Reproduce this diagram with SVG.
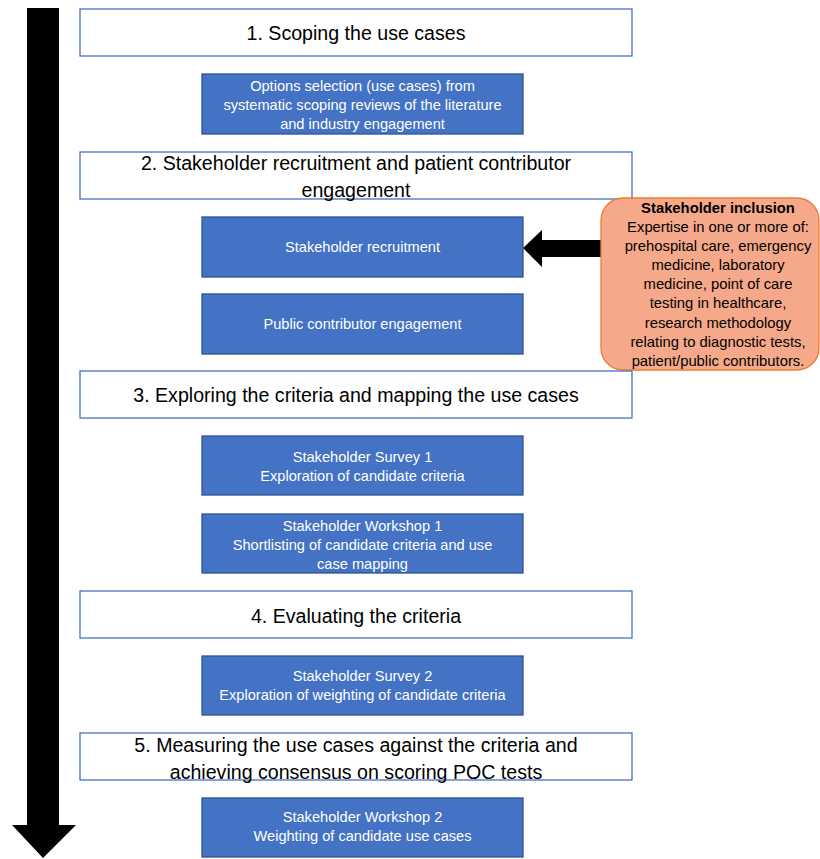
<svg xmlns="http://www.w3.org/2000/svg" width="820" height="859" viewBox="0 0 820 859">
<style>
.step{fill:#ffffff;stroke:#4472C4;stroke-width:1.3}
.task{fill:#4472C4;stroke:#2F528F;stroke-width:1.3}
.tt{font-family:"Liberation Sans",Arial,sans-serif;font-size:19.6px;fill:#000;text-anchor:middle}
.bt{font-family:"Liberation Sans",Arial,sans-serif;font-size:14.6px;fill:#ffffff;text-anchor:middle}
.ot{font-family:"Liberation Sans",Arial,sans-serif;font-size:14.8px;fill:#000;text-anchor:middle}
.arrow{fill:#000}
</style>
<rect width="820" height="859" fill="#ffffff"/>
<g id="connectors">
<polygon class="arrow" points="27,8 59,8 59,825 76,825 43,858 12,825 27,825"/>
<polygon class="arrow" points="523,248 542,230 542,240 601,240 601,257 542,257 542,267"/>
</g>
<g id="step1"><rect class="step" x="80" y="9" width="552" height="47"/><text class="tt" x="356" y="40">1. Scoping the use cases</text></g>
<g id="options"><rect class="task" x="202" y="74" width="321" height="60"/>
<text class="bt" x="362.5" y="91">Options selection (use cases) from</text>
<text class="bt" x="362.5" y="110">systematic scoping reviews of the literature</text>
<text class="bt" x="362.5" y="129">and industry engagement</text></g>
<g id="step2"><rect class="step" x="80" y="152" width="552" height="47"/>
<text class="tt" x="356" y="170">2. Stakeholder recruitment and patient contributor</text>
<text class="tt" x="356" y="197">engagement</text></g>
<g id="recruitment"><rect class="task" x="202" y="217" width="321" height="60"/><text class="bt" x="362.5" y="252">Stakeholder recruitment</text></g>
<g id="public"><rect class="task" x="202" y="294" width="321" height="60"/><text class="bt" x="362.5" y="329">Public contributor engagement</text></g>
<g id="inclusion"><rect x="601" y="198" width="218" height="172" rx="22" ry="22" fill="#F5A98A" stroke="#ED7D31" stroke-width="1.3"/>
<text class="ot" x="718" y="213" font-weight="bold">Stakeholder inclusion</text>
<text class="ot" x="718" y="232">Expertise in one or more of:</text>
<text class="ot" x="718" y="251">prehospital care, emergency</text>
<text class="ot" x="718" y="270">medicine, laboratory</text>
<text class="ot" x="718" y="289">medicine, point of care</text>
<text class="ot" x="718" y="308">testing in healthcare,</text>
<text class="ot" x="718" y="328">research methodology</text>
<text class="ot" x="718" y="347">relating to diagnostic tests,</text>
<text class="ot" x="718" y="366">patient/public contributors.</text></g>
<g id="step3"><rect class="step" x="80" y="371" width="552" height="47"/><text class="tt" x="356" y="402">3. Exploring the criteria and mapping the use cases</text></g>
<g id="survey1"><rect class="task" x="202" y="436" width="321" height="59"/>
<text class="bt" x="362.5" y="462">Stakeholder Survey 1</text>
<text class="bt" x="362.5" y="481">Exploration of candidate criteria</text></g>
<g id="workshop1"><rect class="task" x="202" y="514" width="321" height="59"/>
<text class="bt" x="362.5" y="531">Stakeholder Workshop 1</text>
<text class="bt" x="362.5" y="550">Shortlisting of candidate criteria and use</text>
<text class="bt" x="362.5" y="569">case mapping</text></g>
<g id="step4"><rect class="step" x="80" y="591" width="552" height="47"/><text class="tt" x="356" y="623">4. Evaluating the criteria</text></g>
<g id="survey2"><rect class="task" x="202" y="656" width="321" height="59"/>
<text class="bt" x="362.5" y="681">Stakeholder Survey 2</text>
<text class="bt" x="362.5" y="700">Exploration of weighting of candidate criteria</text></g>
<g id="step5"><rect class="step" x="80" y="733" width="552" height="47"/>
<text class="tt" x="356" y="752">5. Measuring the use cases against the criteria and</text>
<text class="tt" x="356" y="779">achieving consensus on scoring POC tests</text></g>
<g id="workshop2"><rect class="task" x="202" y="798" width="321" height="59"/>
<text class="bt" x="362.5" y="822">Stakeholder Workshop 2</text>
<text class="bt" x="362.5" y="841">Weighting of candidate use cases</text></g>
</svg>
